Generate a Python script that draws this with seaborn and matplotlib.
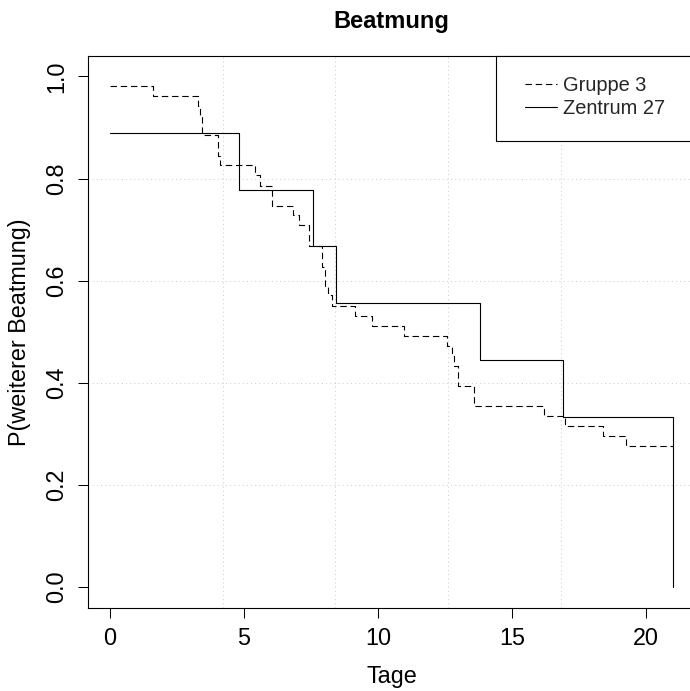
import matplotlib
matplotlib.use("Agg")
import matplotlib.pyplot as plt
from matplotlib.patches import Rectangle
import seaborn as sns
import pandas as pd

# ---- data ----
gruppe_x = [0, 1.62, 3.27, 3.36, 3.42, 4.02, 4.10, 5.39, 5.60, 6.03,
            6.82, 7.05, 7.43, 7.92, 8.00, 8.11, 8.27, 9.12, 9.76, 10.95,
            12.56, 12.75, 12.84, 12.97, 13.56, 16.20, 16.98, 18.40, 19.25, 21.0]
gruppe_y = [0.982, 0.962, 0.943, 0.922, 0.885, 0.845, 0.826, 0.806, 0.786, 0.747,
            0.729, 0.709, 0.668, 0.627, 0.590, 0.572, 0.551, 0.531, 0.511, 0.492,
            0.472, 0.452, 0.433, 0.393, 0.354, 0.335, 0.315, 0.295, 0.276, 0.276]
zentrum_x = [0, 4.80, 7.57, 8.41, 13.78, 16.89, 21.0, 21.0]
zentrum_y = [0.889, 0.778, 0.667, 0.556, 0.444, 0.333, 0.333, 0.0]

x_ticks = [0, 5, 10, 15, 20]
y_ticks = [0.0, 0.2, 0.4, 0.6, 0.8, 1.0]
x_grid = [4.2, 8.4, 12.6, 16.8]
y_grid = [0.2, 0.4, 0.6, 0.8]
labels = ["Gruppe 3", "Zentrum 27"]
title = "Beatmung"
xlabel = "Tage"
ylabel = "P(weiterer Beatmung)"

sns.set_style("ticks")
plt.rcParams["font.family"] = ["Liberation Sans", "DejaVu Sans"]

W, H = 690, 691
fig = plt.figure(figsize=(W / 100, H / 100), dpi=100)
left, right, top, bottom = 87.5, 695.7, 56.0, 607.5
ax = fig.add_axes([left / W, 1 - bottom / H, (right - left) / W, (bottom - top) / H])

df_g = pd.DataFrame({"x": gruppe_x, "y": gruppe_y})
df_z = pd.DataFrame({"x": zentrum_x, "y": zentrum_y})

sns.lineplot(data=df_g, x="x", y="y", ax=ax, estimator=None, sort=False,
             drawstyle="steps-post", color="black", lw=0.8,
             linestyle=(0, (5.8, 3.4)), label=labels[0], zorder=3)
sns.lineplot(data=df_z, x="x", y="y", ax=ax, estimator=None, sort=False,
             drawstyle="steps-post", color="black", lw=0.8,
             label=labels[1], zorder=3)

for gx in x_grid:
    ax.axvline(gx, color="#cfcfcf", lw=0.75, linestyle=(0, (1, 3)), zorder=1)
for gy in y_grid:
    ax.axhline(gy, color="#cfcfcf", lw=0.75, linestyle=(0, (1, 3)), zorder=1)

ax.set_xlim(-0.84, 21.84)
ax.set_ylim(-0.04, 1.04)
ax.set_xticks(x_ticks)
ax.set_xticklabels([str(t) for t in x_ticks])
ax.set_yticks(y_ticks)
ax.set_yticklabels([f"{t:.1f}" for t in y_ticks])

fs = 16.8
ax.tick_params(axis="both", direction="out", length=7, width=0.75,
               color="black", labelsize=fs, pad=7, labelcolor="black")
for lab in ax.get_yticklabels():
    lab.set_rotation(90)
    lab.set_va("center")
    lab.set_ha("right")

for sp in ax.spines.values():
    sp.set_color("black")
    sp.set_linewidth(0.8)
    sp.set_visible(True)

ax.set_xlabel(xlabel, fontsize=fs, labelpad=11, color="black")
ax.set_ylabel(ylabel, fontsize=fs, labelpad=10, color="black")
ax.set_title(title, fontsize=17, fontweight="bold", pad=20, color="black")

# legend box (R style, filled white, anchored top-right)
bx0 = (496 - left) / (right - left)
by0 = (bottom - 141) / (bottom - top)
ax.add_patch(Rectangle((bx0, by0), 1 - bx0, 1 - by0, transform=ax.transAxes,
                       facecolor="white", edgecolor="black", lw=0.8,
                       zorder=4, clip_on=False))
lx = (525 - left) / (right - left)
ly = (bottom - 96.7) / (bottom - top)
leg = ax.legend(loc="center left", bbox_to_anchor=(lx, ly), frameon=False,
                fontsize=14.4, borderpad=0, borderaxespad=0, handlelength=1.58,
                handletextpad=0.32, labelspacing=0.2)
leg.set_zorder(5)

fig.savefig("out.png", dpi=100)
